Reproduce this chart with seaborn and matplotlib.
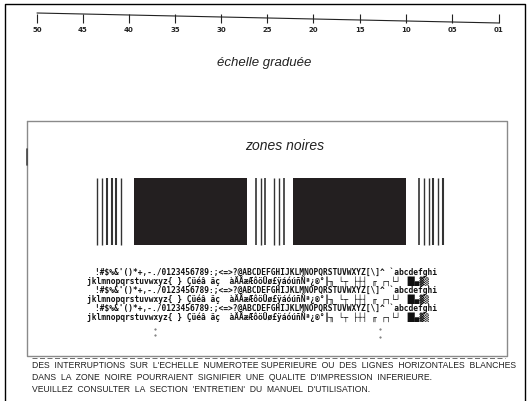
import numpy as np
import matplotlib
matplotlib.use("Agg")
import matplotlib.pyplot as plt
import seaborn as sns

# data
scale_labels = ["50", "45", "40", "35", "30", "25", "20", "15", "10", "05", "01"]
scale_x = [37, 83, 129, 175, 221, 267, 313, 360, 406, 452, 499]

left_lines = [97.3, 102.3, 107.0, 111.7, 116.3, 121.3]
left_widths = [1.0, 1.0, 1.5, 1.5, 1.5, 1.0]
middle_lines = [256.0, 260.7, 265.3, 274.3, 279.3, 284.0]
middle_widths = [1.2, 1.0, 1.2, 1.0, 1.0, 1.2]
right_lines = [419.3, 424.0, 428.7, 433.3, 438.0, 442.7]
right_widths = [1.2, 1.0, 1.0, 1.5, 1.0, 1.5]
blocks_x0 = [134.3, 292.7]
blocks_x1 = [247.3, 405.5]

char_line_a = "!#$%&'()*+,-./0123456789:;<=>?@ABCDEFGHIJKLMNOPQRSTUVWXYZ[\\]^ `abcdefghi"
char_line_b = "jklmnopqrstuvwxyz{ } Çüéâ äç  àÄÅæÆôöÜø£ÿáóúñÑª¿®°╟╖ └┬ ├┼┤ ╓ ┌┐└┘ ▐█▄▓▒"
char_lines = [char_line_a, char_line_b] * 3

notice_lines = [
    "DES  INTERRUPTIONS  SUR  L'ECHELLE  NUMEROTEE SUPERIEURE  OU  DES  LIGNES  HORIZONTALES  BLANCHES",
    "DANS  LA  ZONE  NOIRE  POURRAIENT  SIGNIFIER  UNE  QUALITE  D'IMPRESSION  INFERIEURE.",
    "VEUILLEZ  CONSULTER  LA  SECTION  'ENTRETIEN'  DU  MANUEL  D'UTILISATION.",
]

sns.set_theme(style="white")
plt.rcParams['font.family'] = ['Liberation Sans', 'DejaVu Sans']

fig = plt.figure(figsize=(5.27, 4.02), dpi=100)
ax = fig.add_axes([0, 0, 1, 1])
ax.set_xlim(0, 527)
ax.set_ylim(402, 0)
ax.axis('off')

# outer frame
ax.plot([5, 5, 525, 525], [402, 5, 5, 402], color='black', lw=1.0)

# graduated scale
sns.lineplot(x=[scale_x[0], scale_x[-1]], y=[14, 24], ax=ax, color='#222222', lw=0.8)
ax.vlines(scale_x, 15, 24, color='#222222', lw=0.8)
for xv, lab in zip(scale_x, scale_labels):
    ax.text(xv, 29.5, lab, ha='center', va='center', fontsize=5,
            fontweight='bold', family='DejaVu Sans', color='#222222')
ax.text(264, 63, "échelle graduée", ha='center', va='center', fontsize=9.5,
        style='italic', color='#222222')

# inner box
ax.plot([27, 507, 507, 27, 27], [122, 122, 357, 357, 122], color='#8a8a8a', lw=1.0)
ax.plot([27, 27], [150, 166], color='#444444', lw=1.2)
ax.text(284.5, 146, "zones noires", ha='center', va='center', fontsize=10,
        style='italic', color='#222222')

# black zones and line groups
for x0, x1 in zip(blocks_x0, blocks_x1):
    ax.fill_between([x0, x1], 179, 246, color='#231f20', lw=0)
for xs, ws in [(left_lines, left_widths), (middle_lines, middle_widths), (right_lines, right_widths)]:
    for xv, w in zip(xs, ws):
        ax.vlines(xv, 179, 246, color='#333333', lw=w)

# character set test lines
for i, line in enumerate(char_lines):
    x0 = 95 if i % 2 == 0 else 87
    ax.text(x0, 272 + 9 * i, line, ha='left', va='center', fontsize=5.68,
            fontweight='bold', family='DejaVu Sans Mono', color='#111111')

# stray dots under the text
ax.plot([155, 155, 380, 380], [330, 336, 330, 338], ls='none', marker='.', ms=1, color='#666666')

# broken line under the box
ax.plot([32, 505], [358.8, 358.8], color='#555555', lw=0.6, dashes=(6, 3))

# notice
for i, line in enumerate(notice_lines):
    ax.text(32, 368.5 + 11.8 * i, line, ha='left', va='baseline', fontsize=6.25,
            color='#222222')

fig.savefig('out.png', dpi=100)
